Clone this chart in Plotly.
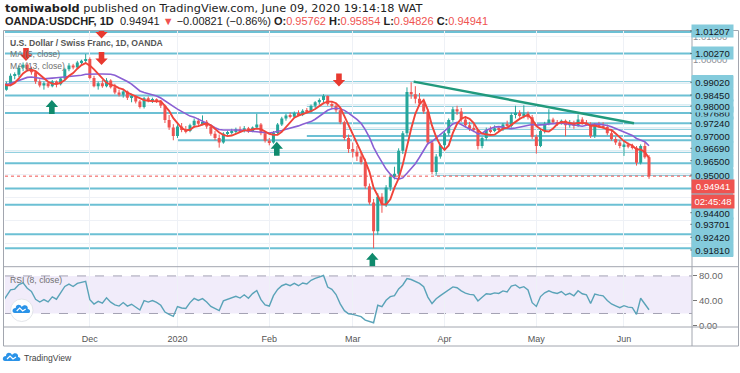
import plotly.graph_objects as go
import pandas as pd
import numpy as np

# ---------------- data ----------------
prior_closes = [0.9950, 0.9945, 0.9935, 0.9950, 0.9975, 0.9985, 0.9975, 0.9980, 0.9920, 0.9870,
                0.9855, 0.9860, 0.9880, 0.9900, 0.9925, 0.9920, 0.9945, 0.9930, 0.9885, 0.9865]

opens = [0.9878, 0.9870, 0.9895, 0.9930, 0.9935, 0.9965, 0.9978, 0.9958, 0.9945, 0.9905,
         0.9888, 0.9898, 0.9885, 0.9905, 0.9893, 0.9918, 0.9958, 0.9975, 0.9966, 0.9988,
         0.9995, 1.0003, 0.9920, 0.9885, 0.9898, 0.9885, 0.9910, 0.9880, 0.9858, 0.9848,
         0.9862, 0.9835, 0.9842, 0.9818, 0.9795, 0.9832, 0.9822, 0.9828, 0.9818, 0.9800,
         0.9738, 0.9705, 0.9668, 0.9710, 0.9695, 0.9690, 0.9715, 0.9735, 0.9722, 0.9730,
         0.9710, 0.9678, 0.9660, 0.9640, 0.9678, 0.9685, 0.9690, 0.9698, 0.9690, 0.9702,
         0.9688, 0.9705, 0.9718, 0.9680, 0.9648, 0.9640, 0.9682, 0.9718, 0.9745, 0.9758,
         0.9752, 0.9768, 0.9760, 0.9778, 0.9775, 0.9800, 0.9815, 0.9825, 0.9842, 0.9808,
         0.9800, 0.9780, 0.9728, 0.9660, 0.9612, 0.9600, 0.9580, 0.9555, 0.9450, 0.9380,
         0.9255, 0.9405, 0.9372, 0.9445, 0.9492, 0.9505, 0.9605, 0.9680, 0.9860, 0.9850,
         0.9830, 0.9810, 0.9775, 0.9640, 0.9512, 0.9580, 0.9628, 0.9680, 0.9738, 0.9785,
         0.9775, 0.9740, 0.9715, 0.9700, 0.9695, 0.9625, 0.9660, 0.9695, 0.9690, 0.9702,
         0.9698, 0.9718, 0.9712, 0.9760, 0.9770, 0.9755, 0.9765, 0.9750, 0.9665, 0.9625,
         0.9690, 0.9722, 0.9740, 0.9728, 0.9722, 0.9735, 0.9715, 0.9725, 0.9712, 0.9740,
         0.9725, 0.9720, 0.9668, 0.9718, 0.9712, 0.9708, 0.9680, 0.9655, 0.9640, 0.9625,
         0.9632, 0.9622, 0.9618, 0.9552, 0.9625, 0.95762]
highs = [0.9895, 0.9905, 0.9940, 0.9945, 0.9975, 0.9988, 0.9985, 0.9970, 0.9950, 0.9915,
         0.9905, 0.9905, 0.9912, 0.9910, 0.9925, 0.9965, 0.9985, 0.9982, 0.9995, 1.0000,
         1.0025, 1.0010, 0.9930, 0.9905, 0.9912, 0.9920, 0.9915, 0.9895, 0.9870, 0.9870,
         0.9866, 0.9852, 0.9846, 0.9825, 0.9838, 0.9840, 0.9835, 0.9832, 0.9825, 0.9805,
         0.9760, 0.9720, 0.9720, 0.9725, 0.9712, 0.9722, 0.9745, 0.9745, 0.9758, 0.9738,
         0.9718, 0.9690, 0.9675, 0.9685, 0.9692, 0.9700, 0.9705, 0.9710, 0.9712, 0.9708,
         0.9710, 0.9765, 0.9725, 0.9690, 0.9660, 0.9690, 0.9725, 0.9752, 0.9765, 0.9770,
         0.9775, 0.9780, 0.9785, 0.9790, 0.9805, 0.9820, 0.9832, 0.9850, 0.9845, 0.9820,
         0.9810, 0.9790, 0.9735, 0.9675, 0.9640, 0.9625, 0.9600, 0.9570, 0.9462, 0.9395,
         0.9420, 0.9420, 0.9455, 0.9500, 0.9535, 0.9615, 0.9690, 0.9880, 0.9902, 0.9885,
         0.9855, 0.9825, 0.9785, 0.9650, 0.9590, 0.9635, 0.9690, 0.9745, 0.9795, 0.9800,
         0.9790, 0.9755, 0.9730, 0.9720, 0.9700, 0.9665, 0.9705, 0.9710, 0.9715, 0.9712,
         0.9725, 0.9735, 0.9770, 0.9800, 0.9780, 0.9802, 0.9775, 0.9760, 0.9675, 0.9695,
         0.9730, 0.9785, 0.9748, 0.9738, 0.9740, 0.9740, 0.9738, 0.9735, 0.9762, 0.9750,
         0.9738, 0.9728, 0.9725, 0.9730, 0.9728, 0.9718, 0.9690, 0.9665, 0.9650, 0.9650,
         0.9640, 0.9635, 0.9625, 0.9632, 0.9640, 0.95854]
lows = [0.9862, 0.9865, 0.9885, 0.9915, 0.9925, 0.9950, 0.9950, 0.9935, 0.9895, 0.9880,
        0.9870, 0.9878, 0.9880, 0.9880, 0.9888, 0.9910, 0.9950, 0.9958, 0.9960, 0.9978,
        0.9985, 0.9915, 0.9880, 0.9870, 0.9878, 0.9880, 0.9875, 0.9850, 0.9840, 0.9835,
        0.9825, 0.9815, 0.9810, 0.9788, 0.9788, 0.9815, 0.9812, 0.9812, 0.9790, 0.9725,
        0.9695, 0.9650, 0.9660, 0.9685, 0.9680, 0.9685, 0.9705, 0.9715, 0.9715, 0.9700,
        0.9670, 0.9650, 0.9618, 0.9635, 0.9670, 0.9675, 0.9678, 0.9685, 0.9684, 0.9682,
        0.9685, 0.9700, 0.9672, 0.9640, 0.9628, 0.9635, 0.9675, 0.9712, 0.9735, 0.9745,
        0.9748, 0.9755, 0.9755, 0.9770, 0.9770, 0.9790, 0.9805, 0.9815, 0.9800, 0.9790,
        0.9770, 0.9720, 0.9650, 0.9595, 0.9575, 0.9560, 0.9545, 0.9440, 0.9370, 0.9181,
        0.9240, 0.9335, 0.9360, 0.9430, 0.9480, 0.9495, 0.9590, 0.9670, 0.9830, 0.9810,
        0.9800, 0.9765, 0.9630, 0.9502, 0.9500, 0.9570, 0.9615, 0.9670, 0.9730, 0.9760,
        0.9730, 0.9705, 0.9690, 0.9685, 0.9610, 0.9615, 0.9650, 0.9680, 0.9685, 0.9690,
        0.9690, 0.9705, 0.9705, 0.9745, 0.9748, 0.9745, 0.9740, 0.9655, 0.9592, 0.9620,
        0.9680, 0.9715, 0.9720, 0.9712, 0.9718, 0.9668, 0.9705, 0.9700, 0.9708, 0.9718,
        0.9712, 0.9660, 0.9660, 0.9705, 0.9700, 0.9672, 0.9648, 0.9630, 0.9615, 0.9582,
        0.9615, 0.9610, 0.9540, 0.9545, 0.9570, 0.94826]
closes = [0.9870, 0.9895, 0.9930, 0.9935, 0.9965, 0.9978, 0.9958, 0.9945, 0.9905, 0.9888,
          0.9898, 0.9885, 0.9905, 0.9893, 0.9918, 0.9958, 0.9975, 0.9966, 0.9988, 0.9995,
          1.0003, 0.9920, 0.9885, 0.9898, 0.9885, 0.9910, 0.9880, 0.9858, 0.9848, 0.9862,
          0.9835, 0.9842, 0.9818, 0.9795, 0.9832, 0.9822, 0.9828, 0.9818, 0.9800, 0.9738,
          0.9705, 0.9668, 0.9710, 0.9695, 0.9690, 0.9715, 0.9735, 0.9722, 0.9730, 0.9710,
          0.9678, 0.9660, 0.9640, 0.9678, 0.9685, 0.9690, 0.9698, 0.9690, 0.9702, 0.9688,
          0.9705, 0.9718, 0.9680, 0.9648, 0.9640, 0.9682, 0.9718, 0.9745, 0.9758, 0.9752,
          0.9768, 0.9760, 0.9778, 0.9775, 0.9800, 0.9815, 0.9825, 0.9842, 0.9808, 0.9800,
          0.9780, 0.9728, 0.9660, 0.9612, 0.9600, 0.9580, 0.9555, 0.9450, 0.9380, 0.9255,
          0.9405, 0.9372, 0.9445, 0.9492, 0.9505, 0.9605, 0.9680, 0.9860, 0.9850, 0.9830,
          0.9810, 0.9775, 0.9640, 0.9512, 0.9580, 0.9628, 0.9680, 0.9738, 0.9785, 0.9775,
          0.9740, 0.9715, 0.9700, 0.9695, 0.9625, 0.9660, 0.9695, 0.9690, 0.9702, 0.9698,
          0.9718, 0.9712, 0.9760, 0.9770, 0.9755, 0.9765, 0.9750, 0.9665, 0.9625, 0.9690,
          0.9722, 0.9740, 0.9728, 0.9722, 0.9735, 0.9715, 0.9725, 0.9712, 0.9740, 0.9725,
          0.9720, 0.9668, 0.9718, 0.9712, 0.9708, 0.9680, 0.9655, 0.9640, 0.9625, 0.9632,
          0.9622, 0.9618, 0.9552, 0.9625, 0.95762, 0.94941]

missing_days = ["2019-12-25", "2020-01-01"]
dates = pd.bdate_range("2019-11-01", "2020-06-09")
dates = dates[~dates.isin(pd.to_datetime(missing_days))]
bar = np.arange(len(dates))

# horizontal levels drawn on the chart (level, first bar; None = whole width)
levels = [1.01207, 1.00270, 0.99020, 0.98450, 0.98000, 0.97680, 0.97240, 0.97000,
          0.96690, 0.96500, 0.96000, 0.95500, 0.95000, 0.94400, 0.93701, 0.92420, 0.91810]
level_start = [None, None, None, None, 73, None, 73, 82, 73, 42, None, None, 103.7,
               None, None, None, None]

trend_bars = [98.6, 151.4]
trend_prices = [0.9905, 0.9724]

sell_bars = [5.7, 23.8, 23.8, 80.7]
sell_prices = [0.9994, 0.9977, 1.0092, 0.9884]
buy_bars = [11.9, 65.8, 88.7]
buy_prices = [0.9825, 0.9644, 0.9161]

# ---------------- indicators ----------------
allc = np.array(prior_closes + closes)
ma5 = pd.Series(allc).rolling(5).mean().values[-len(closes):]
ma13 = pd.Series(allc).rolling(13).mean().values[-len(closes):]
d = np.diff(allc)
g = np.where(d > 0, d, 0.0)
l = np.where(d < 0, -d, 0.0)
n = 8
ag = np.full(len(d), np.nan)
al = np.full(len(d), np.nan)
ag[n - 1] = g[:n].mean()
al[n - 1] = l[:n].mean()
for i in range(n, len(d)):
    ag[i] = (ag[i - 1] * (n - 1) + g[i]) / n
    al[i] = (al[i - 1] * (n - 1) + l[i]) / n
rsi = (100 - 100 / (1 + ag / al))[-len(closes):]

# ---------------- geometry helpers ----------------
W, H = 740, 373
ML, MR, MT, MB = 5, 48, 31, 46
PW = W - ML - MR
PH = H - MT - MB


def px_x(px):
    return (px - ML) / PW


def px_y(py):
    return (H - MB - py) / PH


UP = "#26a69a"
DOWN = "#ef5350"
CYAN_LINE = "#6cc0d4"
CYAN_LBL = "#84cbdc"
FONT = "Liberation Sans, Arial, DejaVu Sans"

o_arr, c_arr = np.array(opens), np.array(closes)
is_up = c_arr >= o_arr
body_base = np.minimum(o_arr, c_arr)
body_len = np.maximum(np.abs(c_arr - o_arr), 0.00005)

fig = go.Figure()
# wicks
for mask, col in ((is_up, UP), (~is_up, DOWN)):
    wx, wy = [], []
    for i in np.where(mask)[0]:
        wx += [bar[i], bar[i], None]
        wy += [lows[i], highs[i], None]
    fig.add_trace(go.Scatter(x=wx, y=wy, mode="lines", line=dict(color=col, width=1),
                             showlegend=False, hoverinfo="skip", xaxis="x", yaxis="y"))
# bodies
fig.add_trace(go.Bar(x=bar, y=body_len, base=body_base, width=0.72,
                     marker=dict(color=np.where(is_up, UP, DOWN).tolist(), line=dict(width=0)),
                     showlegend=False, hoverinfo="skip", xaxis="x", yaxis="y"))
fig.add_trace(go.Scatter(x=bar, y=ma13, mode="lines", line=dict(color="#8a5fd3", width=1.6),
                         showlegend=False, hoverinfo="skip", xaxis="x", yaxis="y"))
fig.add_trace(go.Scatter(x=bar, y=ma5, mode="lines", line=dict(color="#f0443a", width=1.9),
                         showlegend=False, hoverinfo="skip", xaxis="x", yaxis="y"))
fig.add_trace(go.Scatter(x=trend_bars, y=trend_prices, mode="lines",
                         line=dict(color="#21997c", width=2.4),
                         showlegend=False, hoverinfo="skip", xaxis="x", yaxis="y"))
fig.add_trace(go.Scatter(x=bar, y=rsi, mode="lines", line=dict(color="#5aa3b8", width=1.4),
                         showlegend=False, hoverinfo="skip", xaxis="x", yaxis="y2"))

shapes = []
# horizontal levels
for lv, st in zip(levels, level_start):
    if st is None:
        shapes.append(dict(type="line", xref="paper", x0=0, x1=1, yref="y", y0=lv, y1=lv,
                           line=dict(color=CYAN_LINE, width=2), layer="below"))
    else:
        shapes.append(dict(type="line", xref="x", x0=st, x1=170, yref="y", y0=lv, y1=lv,
                           line=dict(color=CYAN_LINE, width=2), layer="below"))
# last price dotted line
shapes.append(dict(type="line", xref="paper", x0=0, x1=1, yref="y", y0=closes[-1], y1=closes[-1],
                   line=dict(color=DOWN, width=1, dash="dot")))
# arrows
down_path = "M-2.8,13 L2.8,13 L2.8,6.5 L6.2,6.5 L0,0 L-6.2,6.5 L-2.8,6.5 Z"
up_path = "M-2.8,-14 L2.8,-14 L2.8,-7 L6.2,-7 L0,0 L-6.2,-7 L-2.8,-7 Z"
for bx, by in zip(sell_bars, sell_prices):
    shapes.append(dict(type="path", xref="x", yref="y", xsizemode="pixel", ysizemode="pixel",
                       xanchor=bx, yanchor=by, path=down_path, fillcolor="#e8392f",
                       line=dict(width=0)))
for bx, by in zip(buy_bars, buy_prices):
    shapes.append(dict(type="path", xref="x", yref="y", xsizemode="pixel", ysizemode="pixel",
                       xanchor=bx, yanchor=by, path=up_path, fillcolor="#0f8a6c",
                       line=dict(width=0)))
# RSI band
shapes.append(dict(type="rect", xref="paper", x0=0, x1=1, yref="y2", y0=20, y1=80,
                   fillcolor="rgba(150,110,220,0.13)", line=dict(width=0), layer="below"))
for v in (20, 80):
    shapes.append(dict(type="line", xref="paper", x0=0, x1=1, yref="y2", y0=v, y1=v,
                       line=dict(color="#a4a2b4", width=1, dash="dash"), layer="below"))
# frame and separators
FR = "#a2a6af"
shapes.append(dict(type="rect", xref="paper", yref="paper", x0=px_x(3.5), x1=px_x(738.5),
                   y0=px_y(346), y1=px_y(30.5), line=dict(color=FR, width=1)))
shapes.append(dict(type="line", xref="paper", yref="paper", x0=px_x(692), x1=px_x(692),
                   y0=px_y(346), y1=px_y(30.5), line=dict(color=FR, width=1)))
for yy in (266.7, 327):
    shapes.append(dict(type="line", xref="paper", yref="paper", x0=px_x(3.5), x1=px_x(738.5),
                       y0=px_y(yy), y1=px_y(yy), line=dict(color=FR, width=1)))
# price label column block
shapes.append(dict(type="rect", xref="paper", yref="paper", x0=px_x(692), x1=px_x(733),
                   y0=px_y(257), y1=px_y(75), fillcolor=CYAN_LBL, line=dict(width=0)))
# RSI pane badge
shapes.append(dict(type="circle", xref="paper", yref="paper", x0=px_x(10.5), x1=px_x(33),
                   y0=px_y(321.5), y1=px_y(299), fillcolor="white", line=dict(color="#e3e5ea", width=1)))
cloud = "M-7,-3 C-10,-3 -10,2 -6,2 C-6,6 -1,6 0,3 C2,6 7,5 6,1 C9,1 9,-3 7,-3 Z"
zig = "M-5,-1 L-2,2 L1,-1 L4,1"
for (ax, ay) in ((21.7, 310), (12, 358)):
    shapes.append(dict(type="path", xref="paper", yref="paper", xsizemode="pixel", ysizemode="pixel",
                       xanchor=px_x(ax), yanchor=px_y(ay), path=cloud, fillcolor="#2a93e8",
                       line=dict(width=0)))
    shapes.append(dict(type="path", xref="paper", yref="paper", xsizemode="pixel", ysizemode="pixel",
                       xanchor=px_x(ax), yanchor=px_y(ay), path=zig,
                       line=dict(color="white", width=1.2)))

annotations = []


def txt(x, y, text, size=10, color="#333", anchor="left", family=FONT):
    annotations.append(dict(xref="paper", yref="paper", x=px_x(x), y=px_y(y), text=text,
                            showarrow=False, xanchor=anchor, yanchor="middle",
                            font=dict(size=size, color=color, family=family)))


# header
txt(3, 8, "<b>tomiwabold</b> published on TradingView.com, June 09, 2020 19:14:18 WAT",
    size=11.3, color="#222", family="DejaVu Sans, Liberation Sans")
o, h, lo, c = opens[-1], highs[-1], lows[-1], closes[-1]
chg = c - closes[-2]
pct = chg / closes[-2] * 100
R = "<span style='color:#ef5350'>%s</span>"
line2 = ("<b>OANDA:USDCHF, 1D</b>  %.5f %s \u2212%.5f (\u2212%.2f%%) "
         "<b>O:</b>%s <b>H:</b>%s <b>L:</b>%s <b>C:</b>%s") % (
    c, R % "\u25bc", abs(chg), abs(pct), R % ("%.5f" % o), R % ("%.5f" % h),
    R % ("%.5f" % lo), R % ("%.5f" % c))
txt(3, 21, line2, size=11, color="#222")
# legends
txt(8, 43, "<b>U.S. Dollar / Swiss Franc, 1D, OANDA</b>", size=8.6, color="#555")
txt(8, 54, "MA (5, close)", size=8.6, color="#707070")
txt(8, 65.5, "MA (13, close)", size=8.6, color="#707070")
txt(8, 280, "RSI (8, close)", size=8.6, color="#707070")
txt(22, 358, "TradingView", size=8.6, color="#444")

# price labels (text, y pixel)
label_y = {1.01207: 31, 1.00270: 53.5, 0.97680: 113.3, 0.99020: 82.3, 0.98450: 95,
           0.98000: 106, 0.97240: 123.3, 0.97000: 136, 0.96690: 148.3, 0.96500: 160.7,
           0.95000: 175, 0.94400: 212.7, 0.93701: 224.3, 0.92420: 237.3, 0.91810: 250}
for lv, yy in label_y.items():
    annotations.append(dict(xref="paper", yref="paper", x=px_x(712.5), y=px_y(yy),
                            text="%.5f" % lv, showarrow=False, xanchor="center", yanchor="middle",
                            width=41, height=12, bgcolor=CYAN_LBL, borderpad=0,
                            font=dict(size=9.5, color="#131722", family=FONT)))
    shapes.append(dict(type="line", xref="paper", yref="paper", x0=px_x(690.5), x1=px_x(694),
                       y0=px_y(yy), y1=px_y(yy), line=dict(color="#333", width=1)))
for text, yy in (("%.5f" % closes[-1], 186.7), ("02:45:48", 201)):
    annotations.append(dict(xref="paper", yref="paper", x=px_x(713), y=px_y(yy),
                            text=text, showarrow=False, xanchor="center", yanchor="middle",
                            width=42, height=12.5, bgcolor="#ef5350", borderpad=0,
                            font=dict(size=9.5, color="white", family=FONT)))

# month ticks
tick_idx, tick_txt = [], []
for i in range(1, len(dates)):
    if dates[i].month != dates[i - 1].month:
        tick_idx.append(int(bar[i]))
        tick_txt.append("2020" if dates[i].month == 1 else dates[i].strftime("%b"))

ygrid = [round(0.91 + 0.01 * k, 2) for k in range(11)]
ygrid_txt = ["%.5f" % v if v in (1.0, 1.01) else "" for v in ygrid]

fig.update_layout(
    width=W, height=H, margin=dict(l=ML, r=MR, t=MT, b=MB),
    paper_bgcolor="white", plot_bgcolor="white", showlegend=False, barmode="overlay",
    font=dict(family=FONT, size=10, color="#555"),
    xaxis=dict(anchor="y2", range=[0.67, 165.3], tickvals=tick_idx, ticktext=tick_txt,
               showgrid=True, gridcolor="#eef1f6", gridwidth=1, zeroline=False,
               ticks="", showline=False, ticklabelstandoff=5, tickfont=dict(size=9, color="#555")),
    yaxis=dict(domain=[0.204, 1], range=[0.91011, 1.01247], side="right", anchor="x",
               tickvals=ygrid, ticktext=ygrid_txt, showgrid=True, gridcolor="#eef1f6",
               zeroline=False, ticks="", tickfont=dict(size=9.5, color="#8a8d95")),
    yaxis2=dict(domain=[0, 0.204], range=[-1.6, 94.9], side="right", anchor="x",
                tickvals=[0, 40, 80], ticktext=["0.00", "40.00", "80.00"], showgrid=False,
                zeroline=False, ticks="outside", ticklen=4, tickcolor="#777",
                tickfont=dict(size=9.5, color="#666")),
    shapes=shapes, annotations=annotations,
)

fig.write_html("out.html", config={"displayModeBar": False},
               post_script="document.body.style.margin='0px';")
